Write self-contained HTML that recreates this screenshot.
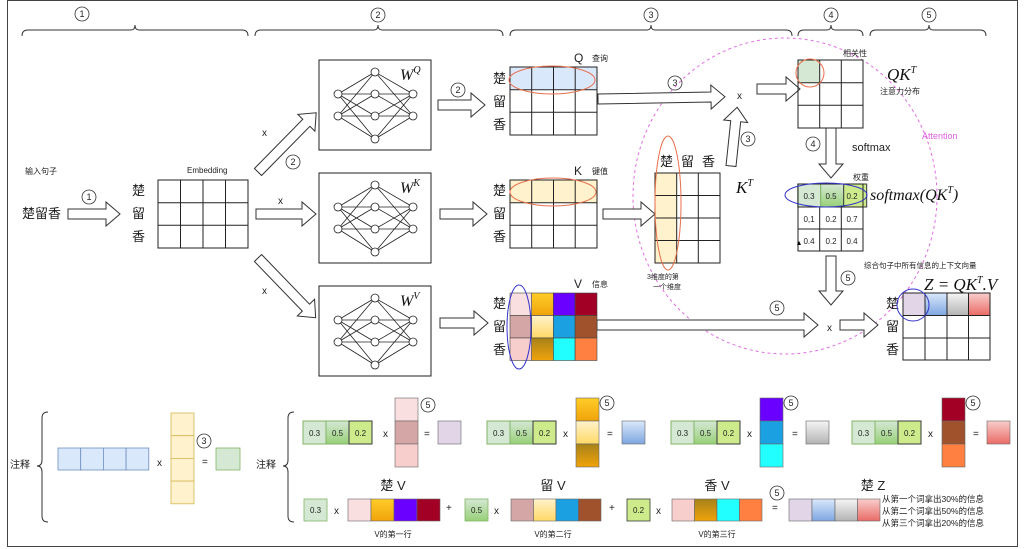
<!DOCTYPE html>
<html><head><meta charset="utf-8"><style>
body{margin:0;background:#fff}
svg{display:block;font-family:"Liberation Sans","Noto Sans CJK SC",sans-serif}
.t{font-size:10px;fill:#222}
.s{font-size:8px;fill:#222}
.c{font-size:13px;fill:#222}
.m{font-family:"Liberation Serif",serif;font-style:italic;fill:#111}
</style></head><body>
<svg width="1024" height="549" viewBox="0 0 1024 549" xmlns="http://www.w3.org/2000/svg">
<defs>
<linearGradient id="go" x1="0" y1="0" x2="0" y2="1"><stop offset="0" stop-color="#ffcd28"/><stop offset="1" stop-color="#f0a30a"/></linearGradient>
<linearGradient id="gy" x1="0" y1="0" x2="0" y2="1"><stop offset="0" stop-color="#fff2cc"/><stop offset="1" stop-color="#ffd966"/></linearGradient>
<linearGradient id="gd" x1="0" y1="0" x2="0" y2="1"><stop offset="0" stop-color="#a8821a"/><stop offset="1" stop-color="#f0a30a"/></linearGradient>
<linearGradient id="gg" x1="0" y1="0" x2="0" y2="1"><stop offset="0" stop-color="#d5e8d4"/><stop offset="1" stop-color="#97d077"/></linearGradient>
<linearGradient id="gb" x1="0" y1="0" x2="0" y2="1"><stop offset="0" stop-color="#dae8fc"/><stop offset="1" stop-color="#7ea6e0"/></linearGradient>
<linearGradient id="gs" x1="0" y1="0" x2="0" y2="1"><stop offset="0" stop-color="#f5f5f5"/><stop offset="1" stop-color="#b3b3b3"/></linearGradient>
<linearGradient id="gr" x1="0" y1="0" x2="0" y2="1"><stop offset="0" stop-color="#f8cecc"/><stop offset="1" stop-color="#ea6b66"/></linearGradient>
<g id="nn" stroke="#222" stroke-width="0.8" fill="none">
<path d="M19 34L56 12M19 34L56 34M19 34L56 56M19 34L56 79M19 56L56 12M19 56L56 34M19 56L56 56M19 56L56 79M56 12L94 34M56 34L94 34M56 56L94 34M56 79L94 34M56 12L94 56M56 34L94 56M56 56L94 56M56 79L94 56"/>
<g fill="#fff"><circle cx="19" cy="34" r="4"/><circle cx="19" cy="56" r="4"/><circle cx="56" cy="12" r="4"/><circle cx="56" cy="34" r="4"/><circle cx="56" cy="56" r="4"/><circle cx="56" cy="79" r="4"/><circle cx="94" cy="34" r="4"/><circle cx="94" cy="56" r="4"/></g>
</g>
<g id="g3"><rect x="0" y="0" width="23" height="23" fill="#d5e8d4" stroke="#82b366"/><rect x="23" y="0" width="23" height="23" fill="url(#gg)" stroke="#82b366"/><rect x="46" y="0" width="23" height="23" fill="#cdeb8b" stroke="#36393d"/></g>
</defs>
<rect x="7.5" y="0.5" width="1010" height="546" fill="#fff" stroke="#444"/>

<g fill="none" stroke="#333" stroke-width="1">
<path d="M22 36Q22 30 28 30H131Q135 30 135 25Q135 30 139 30H242Q248 30 248 36"/>
<path d="M255 36Q255 30 261 30H374Q378 30 378 25Q378 30 382 30H497Q503 30 503 36"/>
<path d="M510 36Q510 30 516 30H647Q651 30 651 25Q651 30 655 30H786Q792 30 792 36"/>
<path d="M798 36Q798 30 804 30H827Q831 30 831 25Q831 30 835 30H857Q863 30 863 36"/>
<path d="M870 36Q870 30 876 30H925Q929 30 929 25Q929 30 933 30H980Q986 30 986 36"/>
</g>
<g fill="#fff" stroke="#333" stroke-width="0.8">
<circle cx="82" cy="14" r="7"/><circle cx="378" cy="15" r="7"/><circle cx="651" cy="15" r="7"/><circle cx="831" cy="15" r="7"/><circle cx="929" cy="15" r="7"/>
<circle cx="89" cy="197" r="7"/><circle cx="293" cy="162" r="7"/><circle cx="458" cy="90" r="7"/><circle cx="675" cy="83" r="7"/><circle cx="748" cy="139" r="7"/><circle cx="813" cy="144" r="7"/><circle cx="848" cy="278" r="7"/><circle cx="777" cy="308" r="7"/>
<circle cx="204" cy="441" r="7"/><circle cx="428" cy="405" r="7"/><circle cx="607" cy="403" r="7"/><circle cx="791" cy="403" r="7"/><circle cx="973" cy="403" r="7"/><circle cx="777" cy="493" r="7"/>
</g>
<g font-size="9" fill="#222" text-anchor="middle">
<text x="82" y="17">1</text><text x="378" y="18">2</text><text x="651" y="18">3</text><text x="831" y="18">4</text><text x="929" y="18">5</text>
<text x="89" y="200">1</text><text x="293" y="165">2</text><text x="458" y="93">2</text><text x="675" y="86">3</text><text x="748" y="142">3</text><text x="813" y="147">4</text><text x="848" y="281">5</text><text x="777" y="311">5</text>
<text x="204" y="444">3</text><text x="428" y="408">5</text><text x="607" y="406">5</text><text x="791" y="406">5</text><text x="973" y="406">5</text><text x="777" y="496">5</text>
</g>

<ellipse cx="785" cy="196" rx="152" ry="158" fill="none" stroke="#e070e0" stroke-width="1" stroke-dasharray="3 3"/>
<text x="922" y="139" font-size="9" fill="#e060e0">Attention</text>

<g fill="#fff" stroke="#333" stroke-width="1">
<polygon points="0,-5 38,-5 38,-12 52,0 38,12 38,5 0,5" transform="translate(68,214)"/>
<polygon points="0,-5 69,-5 69,-12 83,0 69,12 69,5 0,5" transform="translate(258,172) rotate(-45.5)"/>
<polygon points="0,-5 46,-5 46,-12 60,0 46,12 46,5 0,5" transform="translate(256,214)"/>
<polygon points="0,-5 69,-5 69,-12 83,0 69,12 69,5 0,5" transform="translate(258,258) rotate(46)"/>
<polygon points="0,-5 33,-5 33,-12 47,0 33,12 33,5 0,5" transform="translate(438,105)"/>
<polygon points="0,-5 33,-5 33,-12 47,0 33,12 33,5 0,5" transform="translate(440,214)"/>
<polygon points="0,-5 34,-5 34,-12 48,0 34,12 34,5 0,5" transform="translate(440,323)"/>
<polygon points="0,-5 113,-5 113,-12 127,0 113,12 113,5 0,5" transform="translate(598,99) rotate(-1)"/>
<polygon points="0,-5 38,-5 38,-12 52,0 38,12 38,5 0,5" transform="translate(603,214)"/>
<polygon points="0,-5 45,-5 45,-12 59,0 45,12 45,5 0,5" transform="translate(731,166) rotate(-84)"/>
<polygon points="0,-5 29,-5 29,-12 43,0 29,12 29,5 0,5" transform="translate(757,89)"/>
<polygon points="0,-5 36,-5 36,-12 50,0 36,12 36,5 0,5" transform="translate(831,128) rotate(90)"/>
<polygon points="0,-5 35,-5 35,-12 49,0 35,12 35,5 0,5" transform="translate(831,256) rotate(90)"/>
<polygon points="0,-5 207,-5 207,-12 221,0 207,12 207,5 0,5" transform="translate(597,325)"/>
<polygon points="0,-5 24,-5 24,-12 38,0 24,12 24,5 0,5" transform="translate(840,325)"/>
</g>

<text x="25" y="174" class="s">输入句子</text>
<text x="22" y="218" font-size="13" fill="#222">楚留香</text>
<text x="187" y="173" class="s" font-size="9">Embedding</text>
<g class="c"><text x="132" y="195">楚</text><text x="132" y="218">留</text><text x="132" y="241">香</text></g>
<g fill="none" stroke="#222"><rect x="158" y="180" width="90" height="68"/><path d="M180.5 180V248M203 180V248M225.5 180V248M158 202.7H248M158 225.3H248"/></g>

<g fill="#fff" stroke="#222"><rect x="319" y="60" width="112" height="90"/><rect x="319" y="173" width="112" height="90"/><rect x="319" y="286" width="112" height="90"/></g>
<use href="#nn" x="319" y="60"/><use href="#nn" x="319" y="173"/><use href="#nn" x="319" y="286"/>
<g class="m" font-size="16"><text x="400" y="80">W<tspan font-size="10" dy="-7">Q</tspan></text><text x="400" y="193">W<tspan font-size="10" dy="-7">K</tspan></text><text x="400" y="306">W<tspan font-size="10" dy="-7">V</tspan></text></g>
<g class="t" font-size="11"><text x="262" y="136">x</text><text x="278" y="204">x</text><text x="262" y="294">x</text></g>

<g class="c"><text x="493" y="83">楚</text><text x="493" y="106">留</text><text x="493" y="129">香</text>
<text x="493" y="195">楚</text><text x="493" y="218">留</text><text x="493" y="241">香</text>
<text x="493" y="308">楚</text><text x="493" y="331">留</text><text x="493" y="354">香</text></g>
<rect x="510" y="67" width="87" height="23" fill="#dae8fc"/>
<rect x="510" y="180" width="87" height="23" fill="#fff2cc"/>
<g fill="none" stroke="#222"><rect x="510" y="67" width="87" height="68"/><path d="M531.7 67V135M553.5 67V135M575.2 67V135M510 89.7H597M510 112.3H597"/>
<rect x="510" y="180" width="87" height="68"/><path d="M531.7 180V248M553.5 180V248M575.2 180V248M510 202.7H597M510 225.3H597"/></g>
<g stroke="#444" stroke-width="0.6">
<rect x="510" y="293" width="21.7" height="22.5" fill="#fadfe0"/><rect x="510" y="315.5" width="21.7" height="22.5" fill="#d5a6a6"/><rect x="510" y="338" width="21.7" height="22.5" fill="#f8cecc"/>
<rect x="531.7" y="293" width="21.7" height="22.5" fill="url(#go)"/><rect x="531.7" y="315.5" width="21.7" height="22.5" fill="url(#gy)"/><rect x="531.7" y="338" width="21.7" height="22.5" fill="url(#gd)"/>
<rect x="553.4" y="293" width="21.7" height="22.5" fill="#6a00ff"/><rect x="553.4" y="315.5" width="21.7" height="22.5" fill="#1ba1e2"/><rect x="553.4" y="338" width="21.7" height="22.5" fill="#21ffff"/>
<rect x="575.1" y="293" width="21.9" height="22.5" fill="#a20025"/><rect x="575.1" y="315.5" width="21.9" height="22.5" fill="#a0522d"/><rect x="575.1" y="338" width="21.9" height="22.5" fill="#ff8040"/>
</g>
<text x="574" y="62" font-size="12" fill="#222">Q</text><text x="592" y="61" class="s">查询</text>
<text x="574" y="175" font-size="12" fill="#222">K</text><text x="592" y="174" class="s">键值</text>
<text x="574" y="288" font-size="12" fill="#222">V</text><text x="592" y="287" class="s">信息</text>
<ellipse cx="552" cy="80" rx="43" ry="14" fill="none" stroke="#e8704d"/>
<ellipse cx="553" cy="192" rx="43" ry="14" fill="none" stroke="#e8704d"/>
<ellipse cx="519" cy="327" rx="12" ry="42" fill="none" stroke="#3333cc"/>

<g class="t" font-size="11"><text x="737" y="99">x</text><text x="827" y="331">x</text></g>

<g class="c"><text x="660" y="166">楚</text><text x="681" y="166">留</text><text x="702" y="166">香</text></g>
<rect x="655" y="173" width="21.7" height="90" fill="#fff2cc"/>
<g fill="none" stroke="#222"><rect x="655" y="173" width="65" height="90"/><path d="M676.7 173V263M698.3 173V263M655 195.5H720M655 218H720M655 240.5H720"/></g>
<ellipse cx="668" cy="203" rx="13" ry="67" fill="none" stroke="#e8704d"/>
<text x="736" y="193" class="m" font-size="17">K<tspan font-size="10" dy="-7">T</tspan></text>
<text x="647" y="279" font-size="7" fill="#222">3维度的第</text><text x="653" y="289" font-size="7" fill="#222">一个维度</text>

<rect x="798" y="60" width="21.7" height="22.7" fill="#d5e8d4"/>
<g fill="none" stroke="#222"><rect x="798" y="60" width="65" height="68"/><path d="M819.7 60V128M841.3 60V128M798 82.7H863M798 105.3H863"/></g>
<circle cx="810" cy="73" r="14" fill="none" stroke="#e8704d"/>
<text x="843" y="56" class="s">相关性</text>
<text x="887" y="80" class="m" font-size="17">QK<tspan font-size="10" dy="-7">T</tspan></text>
<text x="880" y="94" class="s">注意力分布</text>
<text x="852" y="151" font-size="11" fill="#222">softmax</text>

<use href="#g3" x="797.7" y="184"/>
<g fill="none" stroke="#222"><rect x="798" y="184" width="65" height="67"/><path d="M819.7 207V251M841.3 207V251M798 207H863M798 229H863"/></g>
<g font-size="8" fill="#222" text-anchor="middle">
<text x="809" y="199">0.3</text><text x="831" y="199">0.5</text><text x="852" y="199">0.2</text>
<text x="809" y="222">0,1</text><text x="831" y="222">0.2</text><text x="852" y="222">0.7</text>
<text x="809" y="244">0.4</text><text x="831" y="244">0.2</text><text x="852" y="244">0.4</text></g>
<path d="M797 245L799 241L801 245Z" fill="#000"/>
<ellipse cx="826" cy="195" rx="41" ry="12" fill="none" stroke="#3333cc"/>
<text x="853" y="180" class="s">权重</text>
<text x="870" y="200" class="m" font-size="16">softmax(QK<tspan font-size="10" dy="-7">T</tspan><tspan dy="7">)</tspan></text>

<text x="864" y="268" font-size="7.5" fill="#222">综合句子中所有信息的上下文向量</text>
<text x="924" y="290" class="m" font-size="17">Z = QK<tspan font-size="10" dy="-7">T</tspan><tspan dy="7">.V</tspan></text>
<g class="c"><text x="886" y="308">楚</text><text x="886" y="331">留</text><text x="886" y="354">香</text></g>
<rect x="903" y="293" width="22" height="22.5" fill="#e1d5e7"/><rect x="925" y="293" width="22" height="22.5" fill="url(#gb)"/><rect x="947" y="293" width="21.5" height="22.5" fill="url(#gs)"/><rect x="968.5" y="293" width="21.5" height="22.5" fill="url(#gr)"/>
<g fill="none" stroke="#222"><rect x="903" y="293" width="87" height="67"/><path d="M925 293V360M947 293V360M968.5 293V360M903 315.5H990M903 338H990"/></g>
<circle cx="913" cy="305" r="16" fill="none" stroke="#3333cc"/>

<text x="10" y="468" class="t">注释</text>
<path d="M48 412Q42 412 42 418V460Q42 466 37 466Q42 466 42 472V516Q42 522 48 522" fill="none" stroke="#333"/>
<g fill="#dae8fc" stroke="#6c8ebf" stroke-width="0.8"><rect x="58" y="448" width="22.7" height="22"/><rect x="80.7" y="448" width="22.7" height="22"/><rect x="103.4" y="448" width="22.7" height="22"/><rect x="126.1" y="448" width="22.7" height="22"/></g>
<text x="157" y="466" class="t">x</text>
<g fill="#fff2cc" stroke="#d6b656" stroke-width="0.8"><rect x="171" y="413" width="23" height="22.7"/><rect x="171" y="435.7" width="23" height="22.7"/><rect x="171" y="458.4" width="23" height="22.7"/><rect x="171" y="481.1" width="23" height="22.7"/></g>
<text x="202" y="465" class="t">=</text>
<rect x="216" y="448" width="24" height="22" fill="#d5e8d4" stroke="#82b366" stroke-width="0.8"/>

<text x="256" y="468" class="t">注释</text>
<path d="M294 412Q288 412 288 418V460Q288 466 283 466Q288 466 288 472V516Q288 522 294 522" fill="none" stroke="#333"/>

<g font-size="8" fill="#222" text-anchor="middle">
<use href="#g3" x="303" y="421"/><text x="314.5" y="436">0.3</text><text x="337.5" y="436">0.5</text><text x="360.5" y="436">0.2</text>
<use href="#g3" x="487" y="421"/><text x="498.5" y="436">0.3</text><text x="521.5" y="436">0.5</text><text x="544.5" y="436">0.2</text>
<use href="#g3" x="671" y="421"/><text x="682.5" y="436">0.3</text><text x="705.5" y="436">0.5</text><text x="728.5" y="436">0.2</text>
<use href="#g3" x="852" y="421"/><text x="863.5" y="436">0.3</text><text x="886.5" y="436">0.5</text><text x="909.5" y="436">0.2</text>
</g>
<g class="t" font-size="10"><text x="383" y="437">x</text><text x="424" y="437">=</text><text x="563" y="437">x</text><text x="607" y="437">=</text><text x="747" y="437">x</text><text x="792" y="437">=</text><text x="928" y="437">x</text><text x="973" y="437">=</text></g>
<g stroke="#666" stroke-width="0.6">
<rect x="395" y="398" width="23" height="23" fill="#fadfe0"/><rect x="395" y="421" width="23" height="23" fill="#d5a6a6"/><rect x="395" y="444" width="23" height="23" fill="#f8cecc"/>
<rect x="438" y="421" width="23" height="23" fill="#e1d5e7"/>
<rect x="576" y="398" width="23" height="23" fill="url(#go)"/><rect x="576" y="421" width="23" height="23" fill="url(#gy)"/><rect x="576" y="444" width="23" height="23" fill="url(#gd)"/>
<rect x="622" y="421" width="23" height="23" fill="url(#gb)"/>
<rect x="760" y="398" width="23" height="23" fill="#6a00ff"/><rect x="760" y="421" width="23" height="23" fill="#1ba1e2"/><rect x="760" y="444" width="23" height="23" fill="#21ffff"/>
<rect x="806" y="421" width="23" height="23" fill="url(#gs)"/>
<rect x="942" y="398" width="23" height="23" fill="#a20025"/><rect x="942" y="421" width="23" height="23" fill="#a0522d"/><rect x="942" y="444" width="23" height="23" fill="#ff8040"/>
<rect x="987" y="421" width="23" height="23" fill="url(#gr)"/>
</g>

<g stroke-width="0.8">
<rect x="304" y="499" width="23" height="22" fill="#d5e8d4" stroke="#82b366"/>
<rect x="465" y="499" width="23" height="22" fill="url(#gg)" stroke="#82b366"/>
<rect x="627" y="499" width="23" height="22" fill="#cdeb8b" stroke="#36393d"/>
</g>
<g font-size="8" fill="#222" text-anchor="middle"><text x="315.5" y="513">0.3</text><text x="476.5" y="513">0.5</text><text x="638.5" y="513">0.2</text></g>
<g class="t"><text x="334" y="514">x</text><text x="446" y="511">+</text><text x="494" y="514">x</text><text x="609" y="511">+</text><text x="656" y="514">x</text><text x="772" y="511">=</text></g>
<g stroke="#666" stroke-width="0.6">
<rect x="348" y="499" width="23" height="22" fill="#fadfe0"/><rect x="371" y="499" width="23" height="22" fill="url(#go)"/><rect x="394" y="499" width="23" height="22" fill="#6a00ff"/><rect x="417" y="499" width="23" height="22" fill="#a20025"/>
<rect x="511" y="499" width="22.5" height="22" fill="#d5a6a6"/><rect x="533.5" y="499" width="22.5" height="22" fill="url(#gy)"/><rect x="556" y="499" width="22.5" height="22" fill="#1ba1e2"/><rect x="578.5" y="499" width="22.5" height="22" fill="#a0522d"/>
<rect x="672" y="499" width="22.5" height="22" fill="#f8cecc"/><rect x="694.5" y="499" width="22.5" height="22" fill="url(#gd)"/><rect x="717" y="499" width="22.5" height="22" fill="#21ffff"/><rect x="739.5" y="499" width="22.5" height="22" fill="#ff8040"/>
<rect x="789" y="499" width="23" height="22" fill="#e1d5e7"/><rect x="812" y="499" width="23" height="22" fill="url(#gb)"/><rect x="835" y="499" width="22.5" height="22" fill="url(#gs)"/><rect x="857.5" y="499" width="22.5" height="22" fill="url(#gr)"/>
</g>
<g font-size="13" fill="#222" text-anchor="middle"><text x="393" y="490">楚 V</text><text x="553" y="490">留 V</text><text x="717" y="490">香 V</text><text x="873" y="490">楚 Z</text></g>
<g font-size="8" fill="#222" text-anchor="middle"><text x="393" y="537">V的第一行</text><text x="553" y="537">V的第二行</text><text x="717" y="537">V的第三行</text></g>
<g font-size="8.5" fill="#222"><text x="882" y="502">从第一个词拿出30%的信息</text><text x="882" y="514">从第二个词拿出50%的信息</text><text x="882" y="526">从第三个词拿出20%的信息</text></g>
</svg>
</body></html>
